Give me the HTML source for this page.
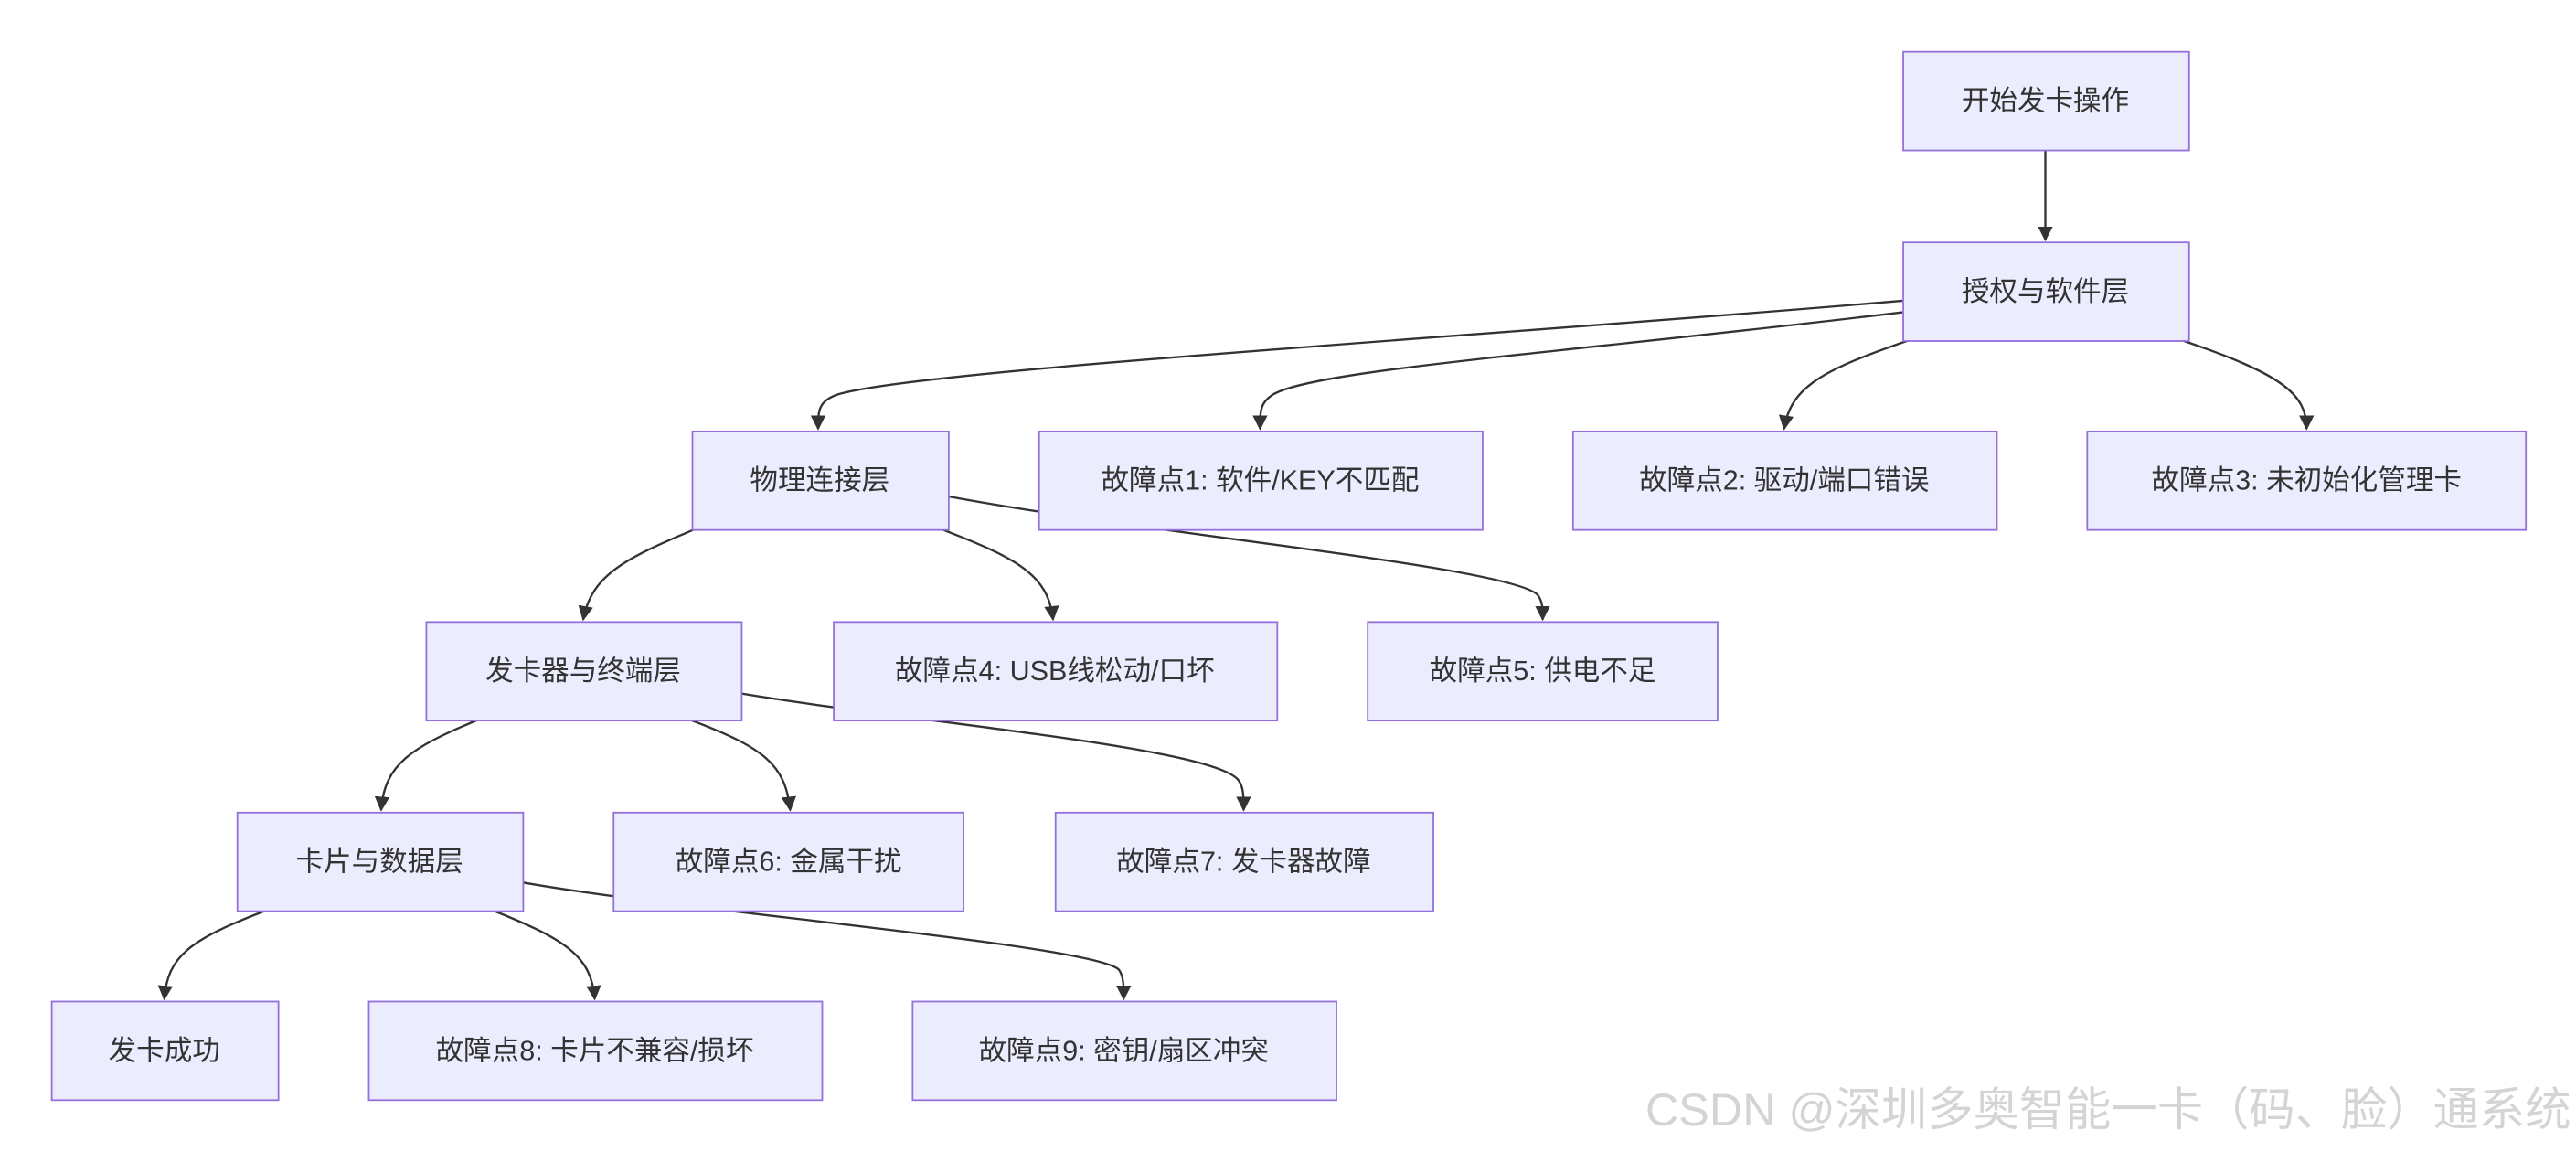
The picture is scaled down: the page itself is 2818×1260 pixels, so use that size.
<!DOCTYPE html>
<html><head><meta charset="utf-8"><style>
html,body{margin:0;padding:0;background:#fff;}
svg{display:block;}
text{font-family:"Liberation Sans","Noto Sans CJK SC",sans-serif;font-size:17px;fill:#333;}
</style></head><body>
<svg width="2818" height="1260" viewBox="0 0 1568 701" xmlns="http://www.w3.org/2000/svg">
<defs><marker id="a" viewBox="0 0 10 10" refX="9" refY="5" markerWidth="7" markerHeight="7" orient="auto"><path d="M0,0L10,5L0,10z" fill="#333"/></marker></defs>
<g fill="none" stroke="#333" stroke-width="1.3" marker-end="url(#a)">
<path d="M1245,91L1245,146"/>
<path d="M1158,183C900,205 560,225 510,240C498,244 498,250 498,261"/>
<path d="M1158,190C950,215 800,225 775,240C767,245 767,250 767,261"/>
<path d="M1162,207C1110,225 1090,235 1086,261"/>
<path d="M1328,207C1390,228 1404,240 1404,261"/>
<path d="M423,322C380,340 360,350 355,377"/>
<path d="M573,322C620,340 638,350 641,377"/>
<path d="M577,302C700,325 920,345 936,362C939,366 939,370 939,377"/>
<path d="M291,438C250,455 234,465 232,493"/>
<path d="M420,438C465,455 478,465 481,493"/>
<path d="M451,422C560,440 740,455 754,475C757,479 757,485 757,493"/>
<path d="M162,554C115,572 102,582 100,608"/>
<path d="M300,554C345,572 360,582 362,608"/>
<path d="M318,537C420,555 665,575 681,590C684,594 684,600 684,608"/>
</g>
<g fill="#ECECFF" stroke="#9370DB" stroke-width="1">
<rect x="1158.5" y="31.5" width="174" height="60"/>
<rect x="1158.5" y="147.5" width="174" height="60"/>
<rect x="421.5" y="262.5" width="156" height="60"/>
<rect x="632.5" y="262.5" width="270" height="60"/>
<rect x="957.5" y="262.5" width="258" height="60"/>
<rect x="1270.5" y="262.5" width="267" height="60"/>
<rect x="259.5" y="378.5" width="192" height="60"/>
<rect x="507.5" y="378.5" width="270" height="60"/>
<rect x="832.5" y="378.5" width="213" height="60"/>
<rect x="144.5" y="494.5" width="174" height="60"/>
<rect x="373.5" y="494.5" width="213" height="60"/>
<rect x="642.5" y="494.5" width="230" height="60"/>
<rect x="31.5" y="609.5" width="138" height="60"/>
<rect x="224.5" y="609.5" width="276" height="60"/>
<rect x="555.5" y="609.5" width="258" height="60"/>
</g>
<g text-anchor="middle">
<text x="1245" y="67">开始发卡操作</text>
<text x="1245" y="183">授权与软件层</text>
<text x="499" y="298">物理连接层</text>
<text x="767" y="298">故障点1: 软件/KEY不匹配</text>
<text x="1086" y="298">故障点2: 驱动/端口错误</text>
<text x="1404" y="298">故障点3: 未初始化管理卡</text>
<text x="355" y="414">发卡器与终端层</text>
<text x="642" y="414">故障点4: USB线松动/口坏</text>
<text x="939" y="414">故障点5: 供电不足</text>
<text x="231" y="530">卡片与数据层</text>
<text x="480" y="530">故障点6: 金属干扰</text>
<text x="757" y="530">故障点7: 发卡器故障</text>
<text x="100" y="645">发卡成功</text>
<text x="362" y="645">故障点8: 卡片不兼容/损坏</text>
<text x="684" y="645">故障点9: 密钥/扇区冲突</text>
</g>
<text x="1565" y="685" text-anchor="end" style="font-size:28px;fill:#d4d4d4">CSDN @深圳多奥智能一卡（码、脸）通系统</text>
</svg>
</body></html>
